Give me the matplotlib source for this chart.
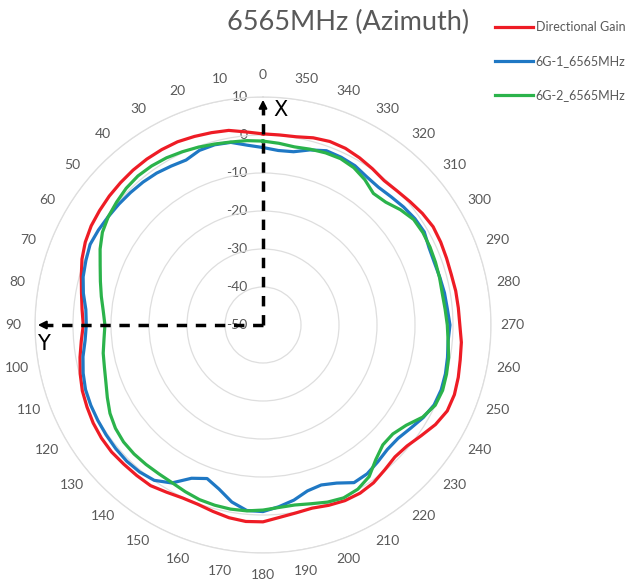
import numpy as np
import matplotlib.pyplot as plt

plt.rcParams['font.family'] = ['Lato', 'DejaVu Sans']

# azimuth angles (deg) and gain (dB)
angles = [0, 5, 10, 15, 20, 25, 30, 35, 40, 45, 50, 55, 60, 65, 70, 75, 80, 85,
          90, 95, 100, 105, 110, 115, 120, 125, 130, 135, 140, 145, 150, 155, 160, 165, 170, 175,
          180, 185, 190, 195, 200, 205, 210, 215, 220, 225, 230, 235, 240, 245, 250, 255, 260, 265,
          270, 275, 280, 285, 290, 295, 300, 305, 310, 315, 320, 325, 330, 335, 340, 345, 350, 355, 360]

directional_gain = [0.3, 1.0, 2.0, 2.4, 2.8, 3.2, 3.3, 3.3, 3.2, 3.0, 2.8, 2.5, 2.2, 1.6, 0.7, -0.5, -1.5, -2.2,
                    -2.7, -2.0, -1.1, -0.2, 0.6, 1.1, 1.6, 1.9, 2.0, 1.8, 1.7, 1.6, 0.8, 0.2, 0.2, 0.8, 1.5, 1.9,
                    1.8, 0.8, 0.2, -0.1, 0.5, 1.0, 1.1, 0.7, -0.2, -0.9, -0.5, 0.8, 2.4, 3.5, 3.6, 3.2, 2.7, 2.4,
                    1.8, 1.6, 1.5, 1.3, 1.4, 1.6, 1.7, 1.2, 0.5, -0.1, -0.4, 0.2, 0.8, 1.3, 1.4, 1.0, 0.3, 0.2, 0.3]

g6_1 = [-3.3, -2.5, -1.2, -0.9, -1.1, -2.1, -1.7, -1.2, -0.9, -0.7, -0.5, -0.3, 0.0, 0.2, -0.4, -1.0, -2.0, -3.2,
        -3.5, -3.0, -1.9, -1.0, -0.3, 0.0, 0.2, 0.4, 0.6, 0.7, 0.5, -0.1, -2.0, -5.5, -7.0, -5.3, -2.7, -1.0,
        -0.9, -2.0, -3.2, -4.8, -5.2, -4.1, -2.1, -2.2, -3.0, -3.7, -3.6, -2.6, -1.3, -0.3, -0.1, -0.3, -0.7, -1.1,
        -0.8, -1.3, -1.5, -1.8, -2.0, -1.8, -1.0, -1.2, -1.7, -2.3, -2.7, -2.4, -1.6, -1.3, -1.2, -2.3, -3.7, -3.9, -3.3]

g6_2 = [-1.6, -1.3, -1.1, -0.7, -0.2, 0.3, 0.8, 1.1, 1.2, 0.9, 0.3, -0.3, -1.2, -2.7, -4.4, -5.7, -6.8, -7.8,
        -8.4, -8.0, -7.3, -6.8, -6.0, -4.8, -3.5, -2.6, -2.1, -2.0, -2.1, -2.2, -2.1, -1.6, -1.1, -0.9, -0.8, -0.9,
        -1.3, -1.8, -1.9, -1.3, -0.4, 0.2, -0.1, -1.3, -3.8, -5.4, -5.4, -4.0, -1.5, 0.0, 0.3, 0.0, -0.4, -1.1,
        -1.5, -1.9, -2.1, -1.9, -1.7, -1.5, -1.4, -1.6, -2.8, -4.3, -4.8, -3.3, -2.2, -1.7, -1.8, -2.1, -2.4, -2.0, -1.6]

r_ticks = [-50, -40, -30, -20, -10, 0, 10]
theta_ticks = list(range(0, 360, 10))

fig = plt.figure(figsize=(6.37, 5.88), dpi=100)
ax = fig.add_axes([35 / 637, 35 / 588, 456 / 637, 456 / 588], projection='polar')
ax.set_theta_zero_location('N')
ax.set_theta_direction(1)
ax.set_ylim(-50, 10)

th = np.deg2rad(angles)
ax.plot(th, directional_gain, color='#ee1c25', lw=2.3, label='Directional Gain', zorder=3)
ax.plot(th, g6_1, color='#1f78c4', lw=2.3, label='6G-1_6565MHz', zorder=3)
ax.plot(th, g6_2, color='#2bb34b', lw=2.3, label='6G-2_6565MHz', zorder=3)

ax.set_thetagrids(theta_ticks, [str(a) for a in theta_ticks])
ax.tick_params(axis='x', colors='#595959', labelsize=10, pad=5)
ax.set_rgrids(r_ticks, [''] * len(r_ticks))
ax.xaxis.grid(False)
ax.yaxis.grid(True, color='#dedede', lw=0.9)
ax.spines['polar'].set_color('#dedede')
ax.spines['polar'].set_linewidth(0.9)

# radial labels along the 0 deg line
for r in r_ticks:
    ax.annotate(str(r), xy=(0, r), xytext=(-11, 0), textcoords='offset points',
                ha='right', va='center', color='#595959', fontsize=10, zorder=1)

# dashed X / Y axes with arrow heads
ax.plot([0, 0], [-50, 8.5], color='black', lw=2.5, ls=(0, (3, 2.5)), zorder=4)
ax.plot([np.pi / 2, np.pi / 2], [-50, 8.5], color='black', lw=2.5, ls=(0, (3, 2.5)), zorder=4)
ax.plot([0, np.pi / 2], [-50, -50], color='black', lw=2.5, zorder=4)
for a in [0, np.pi / 2]:
    ax.annotate('', xy=(a, 10), xytext=(a, 7),
                arrowprops=dict(arrowstyle='-|>', color='black', lw=1.5, mutation_scale=12), zorder=5)
fig.text(280 / 637, 1 - 110 / 588, 'X', fontsize=15, ha='center', va='center', family='DejaVu Sans')
fig.text(43 / 637, 1 - 344 / 588, 'Y', fontsize=15, ha='center', va='center', family='DejaVu Sans')

fig.text(348 / 637, 1 - 22 / 588, '6565MHz (Azimuth)', fontsize=19.5, color='#595959',
         ha='center', va='center')
fig.legend(loc='upper left', bbox_to_anchor=(484 / 637, 1 - 10 / 588), frameon=False,
           fontsize=9, handlelength=3.0, handletextpad=0.25, labelspacing=1.75,
           labelcolor='#595959')

fig.savefig('out.png', dpi=100)
